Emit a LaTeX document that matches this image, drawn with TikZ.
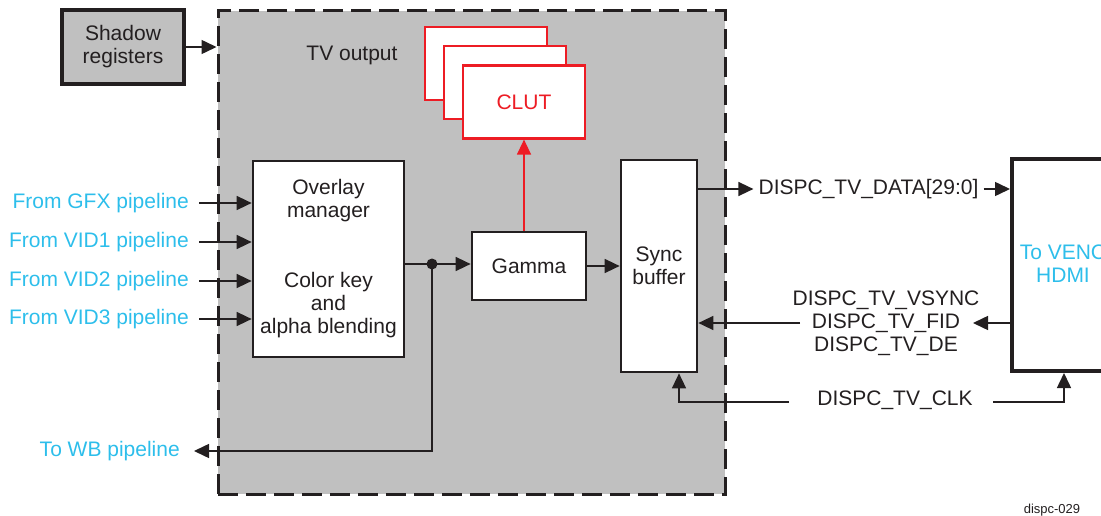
\documentclass[tikz,border=0pt]{standalone}
\usepackage{fontspec}
\setmainfont{Liberation Sans}
\usetikzlibrary{arrows.meta}
\definecolor{txt}{RGB}{35,31,32}
\definecolor{cyanl}{RGB}{45,190,235}
\definecolor{redl}{RGB}{237,28,36}
\definecolor{grayf}{RGB}{192,192,192}
\begin{document}
\begin{tikzpicture}[x=1pt,y=-1pt,
  font=\fontsize{21}{23}\selectfont,
  every node/.style={text=txt},
  box/.style={draw=txt, line width=2.7pt, fill=white, inner sep=0pt, align=center},
  clutbox/.style={draw=redl, line width=2.2pt, fill=white, inner sep=0pt, minimum width=122pt, minimum height=73pt},
  arr/.style={draw=txt, line width=1.5pt, -{Triangle[length=15pt,width=14pt]}},
  ln/.style={draw=txt, line width=1.5pt},
  inlbl/.style={anchor=east, text=cyanl, inner xsep=10pt, inner ysep=0pt},
  sig/.style={inner sep=0pt, align=center}]
\useasboundingbox (0,0) rectangle (1101,516);
% TV output container
\node[draw=txt, fill=grayf, line width=3pt, dash pattern=on 20pt off 8pt,
      minimum width=507pt, minimum height=483pt, inner sep=0pt] (tv) at (471.5,252.5) {};
\node[sig] (tvl) at (352,55.5) {TV output};
% Shadow registers
\node[box, fill=grayf, line width=4pt, minimum width=122pt, minimum height=74pt] (shadow) at (123,47) {Shadow\\registers};
% CLUT stack
\node[clutbox] (clut1) at (486,63.5) {};
\node[clutbox] (clut2) at (505,82.5) {};
\node[clutbox, text=redl] (clut3) at (524,102) {CLUT};
% Main blocks
\node[box, minimum width=151pt, minimum height=196pt] (ov) at (328.5,259) {Overlay\\manager\\[47pt]Color key\\and\\alpha blending};
\node[box, minimum width=114pt, minimum height=68pt] (gamma) at (529,266) {Gamma};
\node[box, minimum width=76pt, minimum height=212pt] (sync) at (659,266) {Sync\\buffer};
\node[box, line width=4pt, minimum width=128pt, minimum height=212pt] (venc) at (1076,265) {};
\node[sig, text=cyanl] (vencl) at (1063,264) {To VENC\\HDMI};
% Input labels
\node[inlbl] (gfx) at (199,203) {From GFX pipeline};
\node[inlbl] (vid1) at (199,242) {From VID1 pipeline};
\node[inlbl] (vid2) at (199,281) {From VID2 pipeline};
\node[inlbl] (vid3) at (199,319) {From VID3 pipeline};
\node[anchor=east, text=cyanl, inner xsep=14pt, inner ysep=0pt] (wb) at (194,451) {To WB pipeline};
% Signal labels
\node[sig, inner xsep=5pt] (data) at (868.5,189) {DISPC\_TV\_DATA[29:0]};
\node[sig] (vs) at (886,323) {DISPC\_TV\_VSYNC\\DISPC\_TV\_FID\\DISPC\_TV\_DE};
\node[sig] (clk) at (895,400) {DISPC\_TV\_CLK};
\node[sig, font=\fontsize{13}{15}\selectfont] (ref) at (1052,510) {dispc-029};
% Coordinates
\coordinate (j) at (432,264);
\coordinate (vsl) at (800,323);
\coordinate (vsr) at (973,323);
\coordinate (clkl) at (789,402);
\coordinate (clkr) at (993,402);
% Connectors
\draw[arr] (shadow.east) -- (shadow.east -| tv.west);
\foreach \n in {gfx,vid1,vid2,vid3} \draw[arr] (\n.east) -- (\n.east -| ov.west);
\draw[ln] (ov.east |- j) -- (j);
\draw[arr] (j) -- (j -| gamma.west);
\draw[arr] (j) |- (wb.east);
\fill[txt] (j) circle (5.5pt);
\draw[arr] (gamma.east) -- (gamma.east -| sync.west);
\draw[arr, draw=redl, fill=redl, line width=1.3pt] (gamma.north -| clut3.south) -- (clut3.south);
\draw[arr] (sync.east |- data.west) -- (data.west);
\draw[arr] (data.east) -- (data.east -| venc.west);
\draw[arr] (vsl) -- (vsl -| sync.east);
\draw[arr] (venc.west |- vsr) -- (vsr);
\draw[arr] (clkl) -| ([xshift=20pt]sync.south);
\draw[arr] (clkr) -| ([xshift=54pt]venc.south west);
\end{tikzpicture}
\end{document}
